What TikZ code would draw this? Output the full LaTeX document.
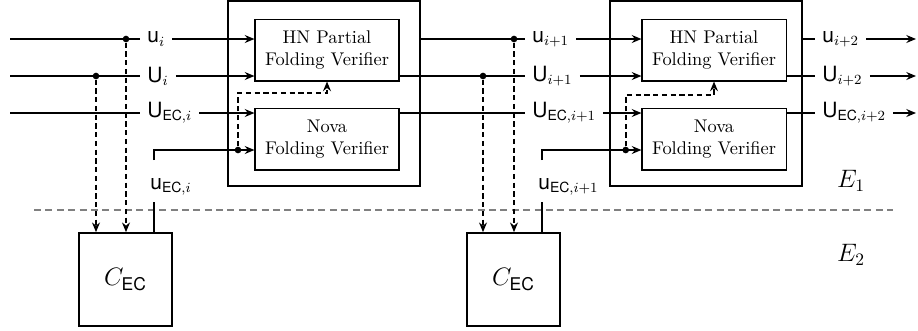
\documentclass[tikz,border=0pt]{standalone}
\usepackage{amsmath}
\usepackage{fontspec}
\setsansfont{TeX Gyre Heros}
\usetikzlibrary{arrows.meta}
\begin{document}
\begin{tikzpicture}[x=0.5714pt,y=-0.5714pt,
  ln/.style={line width=1pt},
  arr/.style={ln,-{Stealth[length=5.5pt,width=4.5pt]}},
  darr/.style={arr,dash pattern=on 3pt off 2pt},
  inbox/.style={draw,line width=0.6pt,inner sep=0pt,align=center,minimum width=82.3pt,minimum height=35.4pt,font=\fontsize{10.5}{12.3}\selectfont},
  obox/.style={draw,line width=1pt,inner sep=0pt,minimum width=109.7pt,minimum height=105.7pt},
  cbox/.style={draw,line width=1pt,inner sep=0pt,minimum width=53.1pt,minimum height=53.1pt},
  lab/.style={anchor=west,inner xsep=4pt,inner ysep=1pt,font=\large},
  dot/.style={circle,fill,inner sep=0pt,minimum size=3.8pt},
  sep/.style={gray,line width=0.6pt,dash pattern=on 4pt off 2.5pt}]
\useasboundingbox (0,0) rectangle (918,330);
% separator
\coordinate (sepL) at (34,210);
\coordinate (sepR) at (893,210);
\draw[sep] (sepL) -- (sepR);
% boxes
\node[obox] (o1) at (324,93.5) {};
\node[obox] (o2) at (706,93.5) {};
\node[inbox] (hn1) at (327,50) {HN Partial\\Folding Verifier};
\node[inbox] (nova1) at (327,139) {Nova\\Folding Verifier};
\node[inbox] (hn2) at (714,50) {HN Partial\\Folding Verifier};
\node[inbox] (nova2) at (714,139) {Nova\\Folding Verifier};
\node[cbox] (c1) at (125.5,279.5) {\Large $C_{\textsf{EC}}$};
\node[cbox] (c2) at (513.5,279.5) {\Large $C_{\textsf{EC}}$};
% stage 1 inputs
\coordinate (s1u) at (10,39);
\coordinate (s1U) at (10,76);
\coordinate (s1E) at (10,113);
\node[lab] (lu1) at (140,39) {\textsf{u}$_i$};
\node[lab] (lU1) at (140,76) {\textsf{U}$_i$};
\node[lab] (lE1) at (140,113) {\textsf{U}$_{\textsf{EC},i}$};
\draw[ln] (s1u) -- (lu1.west);
\draw[ln] (s1U) -- (lU1.west);
\draw[ln] (s1E) -- (lE1.west);
\draw[arr] (lu1.east) -- (lu1.east -| hn1.west);
\draw[arr] (lU1.east) -- (lU1.east -| hn1.west);
\draw[arr] (lE1.east) -- (lE1.east -| nova1.west);
\node[dot] (d1u) at (126,39) {};
\node[dot] (d1U) at (96,76) {};
\draw[darr] (d1u) -- (d1u |- c1.north);
\draw[darr] (d1U) -- (d1U |- c1.north);
% stage 1 u_EC
\coordinate (e1a) at (154,160);
\coordinate (e1b) at (154,202);
\node[dot] (d1e) at (238,150) {};
\node[anchor=west,inner sep=0pt,font=\large] (le1) at (150,187) {\textsf{u}$_{\textsf{EC},i}$};
\draw[arr] (e1a) |- (d1e -| nova1.west);
\draw[ln] (e1b) -- (e1b |- c1.north);
\draw[darr] (d1e) -- ++(0,-57) -| (hn1.south);
% stage 2 inputs
\node[lab] (lu2) at (525,39) {\textsf{u}$_{i+1}$};
\node[lab] (lU2) at (525,76) {\textsf{U}$_{i+1}$};
\node[lab] (lE2) at (525,113) {\textsf{U}$_{\textsf{EC},i+1}$};
\draw[ln] (o1.east |- lu1) -- (lu2.west);
\draw[ln] (hn1.east |- lU1) -- (lU2.west);
\draw[ln] (nova1.east |- lE1) -- (lE2.west);
\draw[arr] (lu2.east) -- (lu2.east -| hn2.west);
\draw[arr] (lU2.east) -- (lU2.east -| hn2.west);
\draw[arr] (lE2.east) -- (lE2.east -| nova2.west);
\node[dot] (d2u) at (514,39) {};
\node[dot] (d2U) at (483,76) {};
\draw[darr] (d2u) -- (d2u |- c2.north);
\draw[darr] (d2U) -- (d2U |- c2.north);
% stage 2 u_EC
\coordinate (e2a) at (542,160);
\coordinate (e2b) at (542,202);
\node[dot] (d2e) at (625.7,150) {};
\node[anchor=west,inner sep=0pt,font=\large] (le2) at (538,187) {\textsf{u}$_{\textsf{EC},i+1}$};
\draw[arr] (e2a) |- (d2e -| nova2.west);
\draw[ln] (e2b) -- (e2b |- c2.north);
\draw[darr] (d2e) -- ++(0,-55) -| (hn2.south);
% stage 2 outputs
\coordinate (endx) at (916,0);
\node[lab] (lu3) at (815,39) {\textsf{u}$_{i+2}$};
\node[lab] (lU3) at (815,76) {\textsf{U}$_{i+2}$};
\node[lab] (lE3) at (815,113) {\textsf{U}$_{\textsf{EC},i+2}$};
\draw[ln] (o2.east |- lu3) -- (lu3.west);
\draw[ln] (hn2.east |- lU3) -- (lU3.west);
\draw[ln] (nova2.east |- lE3) -- (lE3.west);
\draw[arr] (lu3.east) -- (lu3.east -| endx);
\draw[arr] (lU3.east) -- (lU3.east -| endx);
\draw[arr] (lE3.east) -- (lE3.east -| endx);
% domains
\node (E1) at (851,181) {\Large $E_1$};
\node (E2) at (851,255) {\Large $E_2$};
\end{tikzpicture}
\end{document}
